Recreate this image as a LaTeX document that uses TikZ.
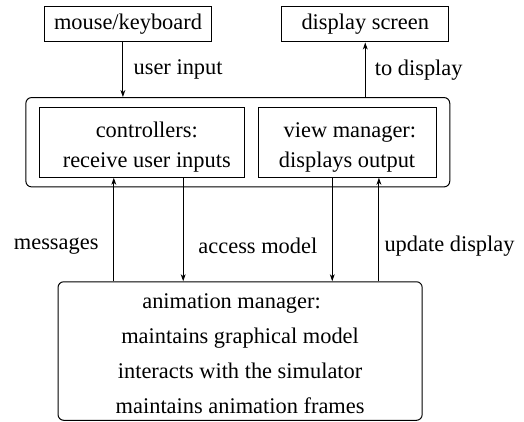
\documentclass[tikz,border=0pt]{standalone}
\usepackage{fontspec}
\setmainfont{Liberation Serif}
\usetikzlibrary{arrows.meta}

\begin{document}
\begin{tikzpicture}[
    box/.style={rectangle, draw, line width=0.5pt, font=\fontsize{11.2}{15}\selectfont, align=center, inner sep=0pt},
    group/.style={rectangle, draw, line width=0.5pt, rounded corners=0.1cm},
    manager/.style={rectangle, draw, line width=0.5pt, rounded corners=0.1cm, font=\fontsize{11.2}{17.5}\selectfont, align=center},
    arrow/.style={-{Stealth[length=3.5pt, width=2.4pt, inset=1pt]}, line width=0.5pt},
    label/.style={font=\fontsize{11.2}{13}\selectfont, inner sep=0pt}
]
\useasboundingbox (0,0) rectangle (9.21,-7.40);

% devices
\node[box, minimum width=2.95cm, minimum height=0.615cm] (mouse) at (2.25, -0.43) {mouse/keyboard};
\node[box, minimum width=2.93cm, minimum height=0.615cm] (screen) at (6.42, -0.43) {display screen};

% user interface
\node[group, minimum width=7.45cm, minimum height=1.57cm] (ui) at (4.18, -2.50) {};
\node[box, minimum width=3.60cm, minimum height=1.23cm] (ctrl) at (2.49, -2.50) {\rule{0pt}{12.8pt}\hspace{0.18cm}controllers:\\ \hspace{0.18cm}receive user inputs};
\node[box, minimum width=3.13cm, minimum height=1.23cm] (view) at (6.10, -2.50) {\rule{0pt}{12.8pt}\hspace{0.1cm}view manager:\\ displays output};

% animation manager
\node[manager, minimum width=6.40cm, minimum height=2.41cm] (anim) at (4.22, -6.17) {\rule{0pt}{10pt}\hspace{-0.3cm}animation manager:\hspace{0.05cm}\\ maintains graphical model\hspace{0.15cm}\\ interacts with the simulator\hspace{0.15cm}\\ maintains animation frames\hspace{0.15cm}};

% arrows
\draw[arrow] ([xshift=-0.09cm]mouse.south) -- ([xshift=-0.09cm]mouse.south |- ui.north)
    node[label, midway, right=0.18cm] {user input};
\draw[arrow] (screen.south |- ui.north) -- (screen.south)
    node[label, midway, right=0.16cm] {to display};
\draw[arrow] ([xshift=-0.49cm]ctrl.south |- anim.north) -- ([xshift=-0.49cm]ctrl.south)
    node[label, pos=0.34, left=0.26cm] {messages};
\draw[arrow] ([xshift=0.73cm]ctrl.south) -- ([xshift=0.73cm]ctrl.south |- anim.north)
    node[label, pos=0.66, right=0.26cm] {access model};
\draw[arrow] ([xshift=-0.26cm]view.south) -- ([xshift=-0.26cm]view.south |- anim.north);
\draw[arrow] ([xshift=0.56cm]view.south |- anim.north) -- ([xshift=0.56cm]view.south)
    node[label, pos=0.34, right=0.09cm] {update display};

\end{tikzpicture}
\end{document}
